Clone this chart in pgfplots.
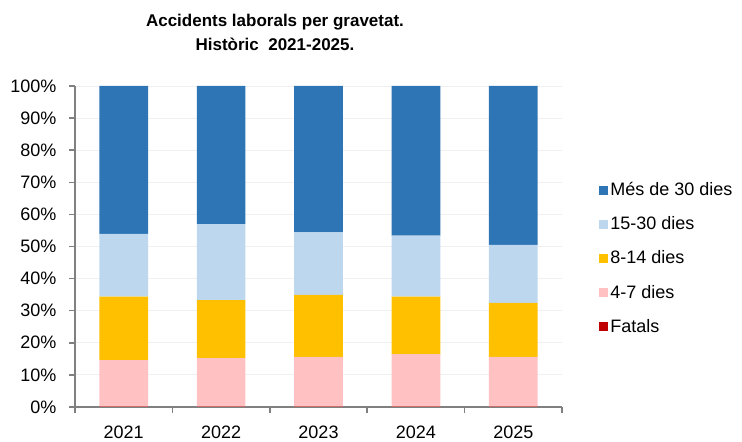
\documentclass[border=0pt]{standalone}
\usepackage{pgfplots}
\pgfplotsset{compat=1.18}
\usepackage{fontspec}
\setmainfont{Liberation Sans}
\definecolor{cmes}{HTML}{2E75B6}
\definecolor{cquinze}{HTML}{BDD7EE}
\definecolor{cvuit}{HTML}{FFC000}
\definecolor{cquatre}{HTML}{FFC1C1}
\definecolor{cfatal}{HTML}{C00000}
\begin{document}
\begin{tikzpicture}
\begin{axis}[
    name=ax, at={(0,0)}, anchor=south west,
    scale only axis, width=487pt, height=321pt,
    ybar stacked, bar width=0.5,
    xmin=-0.5, xmax=4.5, ymin=0, ymax=100,
    xtick={-0.5,0.5,...,4.5},
    x tick label as interval,
    xticklabels={2021,2022,2023,2024,2025},
    ytick={0,10,...,100},
    yticklabel={\pgfmathprintnumber{\tick}\%},
    /pgf/number format/assume math mode=true,
    axis x line*=bottom, axis y line*=left,
    axis line style={draw=gray, line width=1.5pt},
    tick style={draw=gray, line width=1.5pt},
    tick align=outside, major tick length=6pt,
    ymajorgrids, grid style={gray!12, line width=0.8pt},
    ticklabel style={font=\fontsize{18}{21}\selectfont},
    xticklabel style={yshift=-9pt},
    yticklabel style={xshift=-9pt},
    legend style={at={(1.07,0.712)}, anchor=north west, draw=none, fill=none,
        font=\fontsize{18}{21}\selectfont, row sep=15.5pt},
    legend cell align=left,
    reverse legend,
    legend image code/.code={\fill[#1, draw=none] (0pt,-4.5pt) rectangle (9pt,4.5pt);},
]
\addplot[fill=cfatal, draw=none] coordinates {(0,0.1) (1,0.1) (2,0.1) (3,0.1) (4,0.1)};
\addlegendentry{Fatals}
\addplot[fill=cquatre, draw=none] coordinates {(0,14.5) (1,15.1) (2,15.5) (3,16.4) (4,15.5)};
\addlegendentry{4-7 dies}
\addplot[fill=cvuit, draw=none] coordinates {(0,19.8) (1,18.1) (2,19.3) (3,17.9) (4,16.8)};
\addlegendentry{8-14 dies}
\addplot[fill=cquinze, draw=none] coordinates {(0,19.5) (1,23.7) (2,19.5) (3,19.0) (4,18.1)};
\addlegendentry{15-30 dies}
\addplot[fill=cmes, draw=none] coordinates {(0,46.1) (1,43.0) (2,45.6) (3,46.6) (4,49.5)};
\addlegendentry{Més de 30 dies}
\end{axis}
\path (ax.south west) ++(200pt,375pt) node[font=\bfseries\fontsize{17}{24}\selectfont, align=center]
    {Accidents laborals per gravetat.\\Històric\ \ 2021-2025.};
\path (ax.south west) ++(-75pt,-32pt) rectangle ++(742pt,439pt);
\end{tikzpicture}
\end{document}
